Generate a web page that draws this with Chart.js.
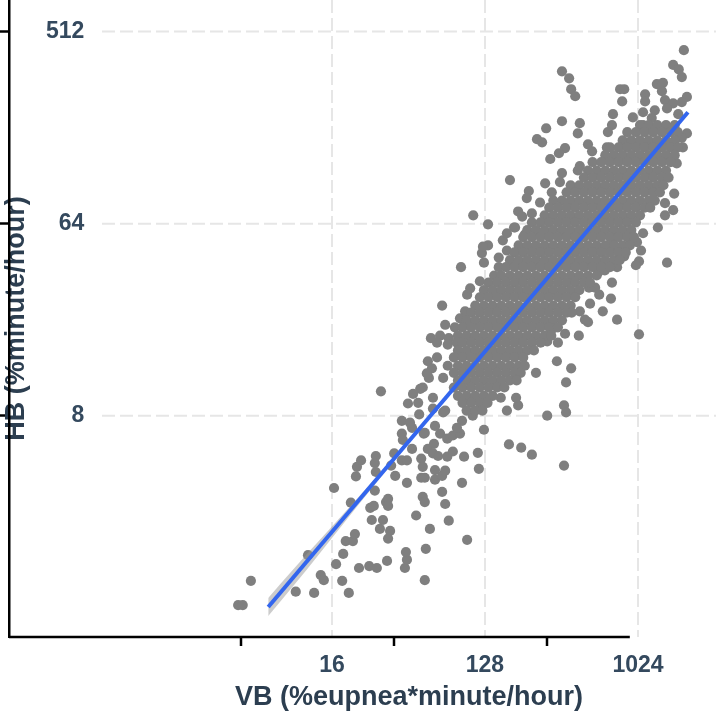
<!DOCTYPE html>
<html>
<head>
<meta charset="utf-8">
<script src="https://cdn.jsdelivr.net/npm/chart.js@4"></script>
<style>
  html, body { margin: 0; padding: 0; background: #fff; }
  canvas { display: block; }
</style>
</head>
<body>
<canvas id="vbChart" width="720" height="717"></canvas>
<script>
// all values are log2(VB), log2(HB)
const tailPoints = [
  [2.16,0.04],[2.25,0.04],[2.41,0.42],[3.29,0.25],[3.65,0.23],[3.53,0.82],[3.78,0.51],[3.84,0.43],[4.20,0.42],[4.33,0.23],
  [4.08,0.68],[4.22,0.84],[4.04,1.87],[4.37,1.64],[4.27,1.04],[4.41,1.04],[4.45,1.15],[4.53,0.62],[4.73,0.65],[4.88,0.62],
  [5.08,0.73],[5.43,0.62],[5.47,0.75],[5.45,0.87],[5.82,0.43],[5.84,0.92],[5.92,1.23],[6.29,1.36],[6.65,1.06],[4.78,1.37],
  [5.00,1.37],[4.94,1.23],[5.14,1.20],[5.10,1.08],[5.65,1.44],[4.75,1.56],[4.82,1.59],[5.06,1.65],[5.10,1.70],[5.10,1.59],
  [5.78,1.73],[5.82,1.65],[6.16,1.81],[6.22,1.62],[6.55,1.95],[4.84,1.83],[4.47,2.05],[4.49,2.20],[4.57,2.30],[4.86,2.37],
  [4.84,2.26],[4.86,2.12],[5.24,2.06],[5.47,1.95],[5.75,2.03],[5.82,2.03],[6.02,2.00],[6.16,2.06],[6.22,2.14],[6.02,2.15],
  [5.75,2.33],[5.78,2.20],[5.37,2.30],[5.47,2.30],[5.16,2.22],[5.22,2.41],[5.57,2.48],[5.37,2.72],[5.39,2.62],[5.80,2.72],
  [5.88,2.48],[6.00,2.56],[5.98,2.41],[6.08,2.37],[6.26,2.36],[6.37,2.44],[6.59,2.36],[6.12,2.72],[6.26,2.64],[6.37,2.69],
  [6.51,2.72],[6.98,2.78],[7.47,2.55],[7.71,2.50],[7.92,2.39],[8.55,2.22],[6.86,2.42],[6.88,2.17]
];

const fringePoints = [
  [8.22,3.00],[8.55,3.16],[8.59,3.05],[8.59,3.52],[8.69,3.74],[8.41,3.85],[7.43,3.08],[7.65,3.16],[7.61,3.28],[7.31,3.28],
  [8.00,3.67],[6.76,3.00],[6.94,3.11],[6.55,2.92],[6.45,2.81],[6.02,2.84],[5.82,2.73],[5.71,3.02],[5.57,2.81],[6.06,3.91],
  [5.88,3.85],[5.96,3.74],[5.90,3.59],[5.78,3.44],[5.59,3.34],[5.69,3.20],[5.98,3.28],[5.98,3.11],[6.18,3.05],[6.27,3.78],
  [4.96,3.38],[6.16,4.72],[6.53,5.32],[6.77,6.13],[7.06,5.99],[6.22,4.42],[6.41,4.38],[6.61,4.63],[6.51,4.52],[5.94,4.21],
  [6.12,4.25],[6.29,4.21],[6.27,4.11],[6.06,4.14],[6.65,4.89],[6.71,4.99],[6.90,5.10],[6.98,5.39],[6.94,5.54],[7.06,5.66],
  [6.96,5.64],[7.27,5.47],[7.35,5.74],[7.43,5.85],[7.57,5.94],[7.65,6.19],[7.73,6.11],[7.92,6.16],[7.43,5.58],[5.49,3.19],
  [5.73,3.42],[5.37,2.92],[5.53,2.89],[5.86,3.66],[6.18,3.59],[6.22,3.08],[10.90,8.71],[10.69,8.48],[10.80,8.41],[10.86,8.29],
  [10.37,8.18],[10.49,8.20],[10.47,8.07],[10.14,8.02],[10.14,7.91],[9.65,8.10],[9.73,8.10],[9.69,7.91],[8.51,8.38],[8.65,8.27],
  [8.69,8.10],[8.77,7.99],[8.51,7.60],[8.86,7.57],[8.82,7.41],[8.20,7.49],[8.02,7.32],[8.12,7.27],[9.51,7.71],[9.49,7.54],
  [9.41,7.43],[10.10,7.74],[9.90,7.66],[10.96,7.98],[10.79,7.71],[10.53,7.93],[10.69,7.88],[10.86,7.90],[10.33,7.77],[10.57,7.80],
  [10.10,7.54],[10.27,7.65],[10.96,7.41],[10.86,7.34],[10.88,7.19],[9.02,7.24],[9.10,7.13],[9.39,7.19],[8.57,7.18],[8.45,7.10],
  [8.28,7.01],[8.86,6.90],[8.82,6.83],[8.51,6.79],[8.47,6.65],[8.18,6.63],[7.86,6.51],[7.82,6.40],[8.08,6.33],[8.31,6.49],
  [7.59,5.94],[7.78,5.83],[7.49,6.68],[10.71,6.47],[10.76,6.94],[10.69,7.04],[10.53,6.32],[10.69,6.21],[10.53,6.13],[10.39,5.94],
  [10.57,5.39],[10.06,5.58],[10.02,5.41],[9.96,5.35],[9.73,5.49],[9.59,5.32],[9.49,5.08],[9.47,4.83],[9.31,4.63],[9.59,4.50],
  [10.02,4.27],[8.84,4.25],[9.24,4.89],[9.16,5.00],[9.04,5.00],[9.06,4.75],[9.02,4.46],[8.96,4.50],[8.86,4.63],[8.57,4.28],
  [8.43,4.14],[8.22,4.16],[8.33,4.36],[10.10,5.85],[9.98,5.71],[9.35,5.27],[9.22,5.24],[9.51,5.69],[9.65,5.63]
];

// centre of the cloud, dots overlap here so these are estimates row by row
const coreHB = [7.54,7.43,7.30,7.19,7.07,6.96,6.83,6.72,6.60,6.49,6.36,6.25,6.13,6.02,5.90,5.79,5.66,5.55,5.43,5.32,5.19,5.08,4.96,4.85,4.72,4.61,4.49,4.38,4.25,4.14,4.02,3.91,3.78,3.67,3.55,3.44,3.31,3.20,3.08];
const coreVB = [
  [10.04,10.21,10.38,10.55,10.72],
  [9.79,9.96,10.13,10.30,10.47,10.64,10.78],
  [9.70,9.87,10.04,10.21,10.38,10.55,10.72],
  [9.45,9.62,9.79,9.96,10.13,10.30,10.47,10.64,10.78],
  [9.36,9.53,9.70,9.87,10.04,10.21,10.38,10.55,10.72],
  [9.11,9.28,9.45,9.62,9.79,9.96,10.13,10.30,10.47,10.64],
  [9.02,9.19,9.36,9.53,9.70,9.87,10.04,10.21,10.38,10.55],
  [8.94,9.11,9.28,9.45,9.62,9.79,9.96,10.13,10.30,10.47,10.60],
  [8.68,8.85,9.02,9.19,9.36,9.53,9.70,9.87,10.04,10.21,10.38,10.50],
  [8.60,8.77,8.94,9.11,9.28,9.45,9.62,9.79,9.96,10.13,10.30,10.43],
  [8.34,8.51,8.68,8.85,9.02,9.19,9.36,9.53,9.70,9.87,10.04,10.21,10.33],
  [8.26,8.43,8.60,8.77,8.94,9.11,9.28,9.45,9.62,9.79,9.96,10.13,10.24],
  [8.17,8.34,8.51,8.68,8.85,9.02,9.19,9.36,9.53,9.70,9.87,10.04],
  [7.92,8.09,8.26,8.43,8.60,8.77,8.94,9.11,9.28,9.45,9.62,9.79,9.96],
  [7.83,8.00,8.17,8.34,8.51,8.68,8.85,9.02,9.19,9.36,9.53,9.70,9.87],
  [7.75,7.92,8.09,8.26,8.43,8.60,8.77,8.94,9.11,9.28,9.45,9.62,9.79,9.92],
  [7.66,7.83,8.00,8.17,8.34,8.51,8.68,8.85,9.02,9.19,9.36,9.53,9.70,9.84],
  [7.58,7.75,7.92,8.09,8.26,8.43,8.60,8.77,8.94,9.11,9.28,9.45,9.62,9.76],
  [7.49,7.66,7.83,8.00,8.17,8.34,8.51,8.68,8.85,9.02,9.19,9.36,9.53,9.64],
  [7.27,7.41,7.58,7.75,7.92,8.09,8.26,8.43,8.60,8.77,8.94,9.11,9.28,9.45],
  [7.18,7.32,7.49,7.66,7.83,8.00,8.17,8.34,8.51,8.68,8.85,9.02,9.19],
  [7.07,7.24,7.41,7.58,7.75,7.92,8.09,8.26,8.43,8.60,8.77,8.94,9.06],
  [6.98,7.15,7.32,7.49,7.66,7.83,8.00,8.17,8.34,8.51,8.68,8.85],
  [6.90,7.07,7.24,7.41,7.58,7.75,7.92,8.09,8.26,8.43,8.60,8.77],
  [6.81,6.98,7.15,7.32,7.49,7.66,7.83,8.00,8.17,8.34,8.51,8.68],
  [6.73,6.90,7.07,7.24,7.41,7.58,7.75,7.92,8.09,8.26,8.43,8.60,8.70],
  [6.64,6.81,6.98,7.15,7.32,7.49,7.66,7.83,8.00,8.17,8.34,8.51],
  [6.56,6.73,6.90,7.07,7.24,7.41,7.58,7.75,7.92,8.09,8.26,8.43],
  [6.47,6.64,6.81,6.98,7.15,7.32,7.49,7.66,7.83,8.00,8.17,8.30],
  [6.45,6.56,6.73,6.90,7.07,7.24,7.41,7.58,7.75,7.92,8.09],
  [6.47,6.64,6.81,6.98,7.15,7.32,7.49,7.66,7.83,7.96],
  [6.39,6.56,6.73,6.90,7.07,7.24,7.41,7.58,7.75],
  [6.47,6.64,6.81,6.98,7.15,7.32,7.49,7.66,7.78],
  [6.39,6.56,6.73,6.90,7.07,7.24,7.41,7.58,7.70],
  [6.47,6.64,6.81,6.98,7.15,7.32,7.49,7.62],
  [6.39,6.56,6.73,6.90,7.07,7.24,7.38],
  [6.47,6.64,6.81,6.98,7.15],
  [6.56,6.73,6.90,7.05],
  [6.64,6.81,6.95]
];

const fitVB = [2.75, 10.98];
const fitHB = [0.01, 7.74];
const bandVB = [2.75, 3.0, 3.5, 4.0, 4.5, 5.0, 5.5];
const bandUpper = [0.15, 0.38, 0.83, 1.27, 1.71, 2.16, 2.61];
const bandLower = [-0.13, 0.11, 0.59, 1.09, 1.59, 2.08, 2.57];

const xLabelTicks = [16, 128, 1024];
const xMinorExp = [2.21, 5.21, 8.21];
const yLabelTicks = [8, 64, 512];

const xTitle = 'VB (%eupnea*minute/hour)';
const yTitle = 'HB (%minute/hour)';

const darkBlue = '#2c3e50';
const tickBlue = '#34495e';
const gridGrey = '#e6e6e6';
const fontFamily = '"Liberation Sans", Arial, sans-serif';

const toXY = (vb, hb) => ({ x: 2 ** vb, y: 2 ** hb });
const corePoints = [];
coreHB.forEach((hb, i) => coreVB[i].forEach(vb => corePoints.push([vb, hb])));
const allPoints = [...tailPoints, ...fringePoints, ...corePoints].map(p => toXY(p[0], p[1]));

// y grid starts right of the tick labels, x axis line stops short of the panel edge
const axisExtras = {
  id: 'axisExtras',
  beforeDatasetsDraw(chart) {
    const { ctx, scales: { x, y }, chartArea } = chart;
    ctx.save();
    ctx.strokeStyle = gridGrey;
    ctx.lineWidth = 2;
    ctx.setLineDash([13, 5]);
    yLabelTicks.forEach(v => {
      const py = y.getPixelForValue(v);
      ctx.beginPath();
      ctx.moveTo(102, py);
      ctx.lineTo(chartArea.right, py);
      ctx.stroke();
    });
    ctx.setLineDash([]);
    ctx.strokeStyle = '#000';
    ctx.lineWidth = 2.5;
    ctx.beginPath();
    ctx.moveTo(chartArea.left, chartArea.bottom);
    ctx.lineTo(x.getPixelForValue(2 ** 9.84), chartArea.bottom);
    ctx.stroke();
    ctx.fillStyle = darkBlue;
    ctx.font = 'bold 27px ' + fontFamily;
    ctx.textAlign = 'center';
    ctx.textBaseline = 'middle';
    ctx.fillText(xTitle, 409, 698);
    ctx.restore();
  }
};

new Chart(document.getElementById('vbChart').getContext('2d'), {
  type: 'scatter',
  data: {
    datasets: [
      {
        label: 'Fit',
        data: fitVB.map((v, i) => toXY(v, fitHB[i])),
        showLine: true,
        borderColor: '#3366ee',
        borderWidth: 4,
        pointRadius: 0,
        order: 1
      },
      {
        label: 'Upper',
        data: bandVB.map((v, i) => toXY(v, bandUpper[i])),
        showLine: true,
        borderWidth: 0,
        borderColor: 'transparent',
        backgroundColor: 'rgba(153,153,153,0.5)',
        pointRadius: 0,
        fill: '+1',
        order: 2
      },
      {
        label: 'Lower',
        data: bandVB.map((v, i) => toXY(v, bandLower[i])),
        showLine: true,
        borderWidth: 0,
        borderColor: 'transparent',
        pointRadius: 0,
        order: 2
      },
      {
        label: 'Subjects',
        data: allPoints,
        backgroundColor: '#7f7f7f',
        borderWidth: 0,
        pointRadius: 5.1,
        order: 3
      }
    ]
  },
  options: {
    responsive: false,
    animation: false,
    layout: { autoPadding: false, padding: { right: 4 } },
    plugins: { legend: { display: false }, tooltip: { enabled: false } },
    scales: {
      x: {
        type: 'logarithmic',
        bounds: 'data',
        min: 2 ** -2.333,
        max: 2 ** 11.53,
        afterFit: s => { s.height = 80; s.paddingLeft = 0; s.paddingRight = 0; },
        afterBuildTicks: s => {
          s.ticks = [...xMinorExp.map(e => 2 ** e), ...xLabelTicks].sort((a, b) => a - b).map(v => ({ value: v }));
        },
        border: { display: false, dash: [13, 5] },
        grid: {
          lineWidth: 2,
          tickLength: 9,
          tickWidth: 2.5,
          color: c => xLabelTicks.includes(c.tick.value) ? gridGrey : 'transparent',
          tickColor: c => xLabelTicks.includes(c.tick.value) ? 'transparent' : '#000'
        },
        ticks: {
          autoSkip: false,
          maxRotation: 0,
          padding: 6,
          color: tickBlue,
          font: { family: fontFamily, size: 23, weight: 'bold' },
          callback: v => xLabelTicks.includes(v) ? String(v) : ''
        }
      },
      y: {
        type: 'logarithmic',
        bounds: 'data',
        min: 2 ** -0.458,
        max: 2 ** 9.494,
        afterFit: s => { s.width = 9; s.paddingTop = 0; s.paddingBottom = 0; },
        afterBuildTicks: s => { s.ticks = yLabelTicks.map(v => ({ value: v })); },
        border: { display: true, color: '#000', width: 2.5 },
        grid: { drawOnChartArea: false, tickLength: 9, tickWidth: 2.5, tickColor: '#000' },
        ticks: {
          mirror: true,
          crossAlign: 'far',
          padding: 37,
          autoSkip: false,
          color: tickBlue,
          font: { family: fontFamily, size: 23, weight: 'bold' },
          callback: v => String(v)
        },
        title: {
          display: true,
          text: yTitle,
          color: darkBlue,
          padding: 0,
          font: { family: fontFamily, size: 27, weight: 'bold' }
        }
      }
    }
  },
  plugins: [axisExtras]
});
</script>
</body>
</html>
